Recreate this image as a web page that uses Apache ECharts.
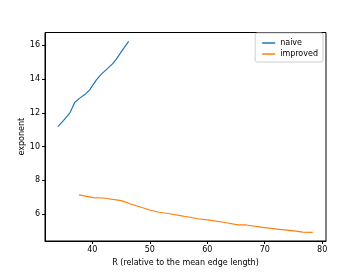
<!DOCTYPE html>
<html><head><meta charset="utf-8">
<script src="https://cdn.jsdelivr.net/npm/echarts@6/dist/echarts.min.js"></script>
<style>html,body{margin:0;padding:0;background:#fff}#c{width:363px;height:272px}</style>
</head><body><div id="c"></div>
<script>
const naiveR = [34.0, 35.0, 36.06, 36.93, 37.8, 38.7, 39.53, 40.7, 41.57, 42.72, 43.5, 44.18, 45.2, 46.32];
const naiveExp = [11.18, 11.55, 11.98, 12.61, 12.87, 13.08, 13.36, 13.95, 14.29, 14.65, 14.9, 15.18, 15.7, 16.23];
const improvedR = [37.67, 40.11, 41.85, 45.05, 46.79, 48.23, 49.97, 51.41, 53.74, 55.76, 58.37, 60.4, 63.31, 65.33, 66.79, 69.67, 72.57, 75.48, 76.63, 78.37];
const improvedExp = [7.13, 6.97, 6.95, 6.79, 6.58, 6.43, 6.24, 6.12, 6.0, 5.88, 5.72, 5.64, 5.48, 5.36, 5.35, 5.21, 5.09, 4.99, 4.93, 4.91];
const xTicks = [40, 50, 60, 70, 80];
const yTicks = [6, 8, 10, 12, 14, 16];

const chart = echarts.init(document.getElementById('c'), null, {renderer: 'canvas'});
const font = 'DejaVu Sans';
chart.setOption({
  animation: false,
  grid: {left: 45, right: 37, top: 32.5, bottom: 31, show: true, borderColor: '#000', borderWidth: 1, containLabel: false},
  xAxis: {
    type: 'value', min: 31.76, max: 80.66,
    name: 'R (relative to the mean edge length)', nameLocation: 'middle', nameGap: 18, nameMoveOverlap: false,
    nameTextStyle: {fontFamily: font, fontSize: 8, color: '#000'},
    axisLine: {show: true, onZero: false, lineStyle: {color: '#000', width: 1}},
    axisTick: {show: true, length: 3, inside: false, customValues: xTicks, lineStyle: {color: '#000'}},
    axisLabel: {customValues: xTicks, fontFamily: font, fontSize: 8, color: '#000', margin: 5},
    splitLine: {show: false}
  },
  yAxis: {
    type: 'value', min: 4.4, max: 16.76,
    name: 'exponent', nameLocation: 'middle', nameGap: 19, nameMoveOverlap: false,
    nameTextStyle: {fontFamily: font, fontSize: 8, color: '#000'},
    axisLine: {show: true, onZero: false, lineStyle: {color: '#000', width: 1}},
    axisTick: {show: true, length: 3, inside: false, customValues: yTicks, lineStyle: {color: '#000'}},
    axisLabel: {customValues: yTicks, fontFamily: font, fontSize: 8, color: '#000', margin: 5},
    splitLine: {show: false}
  },
  legend: {
    orient: 'vertical', right: 40, top: 33,
    backgroundColor: '#fff', borderColor: '#ccc', borderWidth: 1, borderRadius: 2,
    padding: [6, 5, 4, 7], itemGap: 3, itemWidth: 13, itemHeight: 1.5, icon: 'rect',
    textStyle: {fontFamily: font, fontSize: 8, color: '#000'},
    data: ['naive', 'improved']
  },
  series: [
    {name: 'naive', type: 'line', symbol: 'none', color: '#1f77b4', lineStyle: {width: 1.2},
     data: naiveR.map((r, i) => [r, naiveExp[i]])},
    {name: 'improved', type: 'line', symbol: 'none', color: '#ff7f0e', lineStyle: {width: 1.2},
     data: improvedR.map((r, i) => [r, improvedExp[i]])}
  ]
});
</script></body></html>
